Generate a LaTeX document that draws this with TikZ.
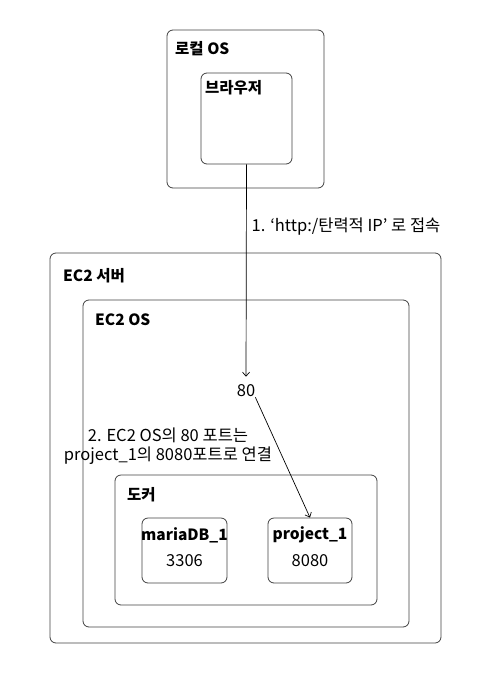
\documentclass[tikz,border=0pt]{standalone}
\usepackage{fontspec}
\setmainfont{Noto Sans CJK KR}
\usetikzlibrary{arrows.meta}

\begin{document}
\begin{tikzpicture}[x=1pt,y=-1pt,
  box/.style={draw=black!75,rounded corners=6pt,line width=0.8pt},
  title/.style={anchor=west,inner sep=0pt,font=\bfseries\fontsize{15.5}{18}\selectfont},
  txt/.style={inner sep=0pt,font=\fontsize{16.5}{19}\selectfont},
  arr/.style={-{Straight Barb[length=4pt,width=7pt]},line width=0.7pt}]
\useasboundingbox (0,0) rectangle (485,678);
\node[box,minimum width=157pt,minimum height=158pt] (local) at (245.5,109) {};
\node[box,minimum width=91pt,minimum height=91pt] (browser) at (246.5,118.5) {};
\node[box,minimum width=391pt,minimum height=390pt] (server) at (245.5,448) {};
\node[box,minimum width=326pt,minimum height=327pt] (ec2os) at (246,463.5) {};
\node[box,minimum width=262pt,minimum height=130pt] (docker) at (246,540) {};
\node[box,minimum width=85pt,minimum height=65pt] (maria) at (184.5,550.5) {};
\node[box,minimum width=84pt,minimum height=65pt] (project) at (310,550.5) {};
\node[title] (localtitle) at (175,49) {로컬 OS};
\node[title] (browsertitle) at (205,88) {브라우저};
\node[title] (servertitle) at (63,276) {EC2 서버};
\node[title] (ostitle) at (95,320) {EC2 OS};
\node[title] (dockertitle) at (127,495) {도커};
\node[title,anchor=center] (marianame) at (184.5,535) {mariaDB\_1};
\node[txt] (mariaport) at (184.5,561) {3306};
\node[title,anchor=center] (projectname) at (310,535) {project\_1};
\node[txt] (projectport) at (310,561) {8080};
\node[txt] (eighty) at (246,391) {80};
\node[txt,align=center] (step2) at (168,446.5) {2. EC2 OS의 80 포트는\\project\_1의 8080포트로 연결};
\draw[arr,shorten >=8pt] (browser.south) -- (eighty.north)
  node[pos=0.28,anchor=west,txt,xshift=5pt] (step1) {1. ‘http:/탄력적 IP’ 로 접속};
\draw[arr] (eighty.south east) -- (project.north);
\end{tikzpicture}
\end{document}
